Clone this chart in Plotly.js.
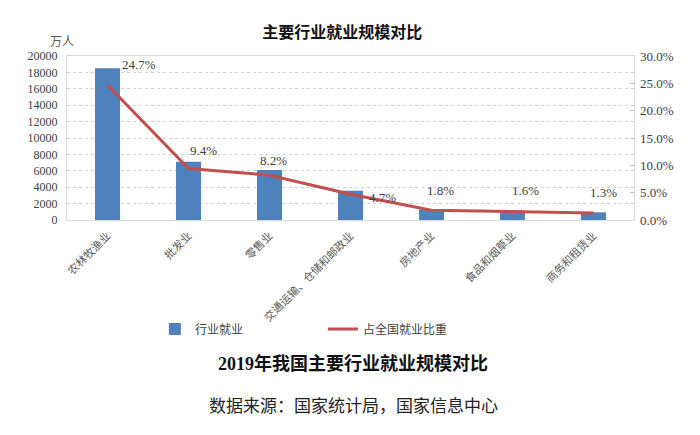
<!DOCTYPE html>
<html>
<head>
<meta charset="utf-8">
<script src="https://cdn.plot.ly/plotly-3.0.1.min.js"></script>
<style>
  html, body { margin: 0; padding: 0; background: #fff; }
  #chart { width: 700px; height: 435px; }
</style>
</head>
<body>
<div id="chart"></div>
<script>
// 2019 employment by major industry (万人) and share of national employment (%)
const industries = ['农林牧渔业', '批发业', '零售业', '交通运输、仓储和邮政业', '房地产业', '食品和烟草业', '商务和租赁业'];
const employment = [18500, 7100, 6100, 3570, 1300, 1140, 940];
const sharePct = [24.7, 9.4, 8.2, 4.7, 1.8, 1.6, 1.3];
const leftTicks = [0, 2000, 4000, 6000, 8000, 10000, 12000, 14000, 16000, 18000, 20000];
const rightTicks = [0, 5, 10, 15, 20, 25, 30];

const serif = 'Liberation Serif, Noto Sans CJK SC, serif';
const cjk = 'Noto Sans CJK SC, sans-serif';
const blue = '#4F81BD';
const red = '#C0504D';

// pixel nudges for each percentage label relative to its point
const labelShift = [[31, 20], [15, 18], [4, 15], [32, -3], [9, 20], [13, 21], [10, 20]];

const traces = [
  {
    type: 'bar', name: '行业就业', x: industries, y: employment,
    marker: { color: blue }, hoverinfo: 'x+y'
  },
  {
    type: 'scatter', mode: 'lines', name: '占全国就业比重', x: industries, y: sharePct,
    yaxis: 'y2', line: { color: red, width: 3 }
  }
];

const annotations = sharePct.map((v, i) => ({
  x: industries[i], y: v, xref: 'x', yref: 'y2',
  text: v.toFixed(1) + '%', showarrow: false,
  xshift: labelShift[i][0], yshift: labelShift[i][1],
  font: { family: serif, size: 13, color: '#404040' }
}));

annotations.push(
  { xref: 'paper', yref: 'paper', x: -0.009, y: 1.0, yshift: 16, xanchor: 'center', yanchor: 'middle',
    text: '万人', showarrow: false, font: { family: cjk, size: 12, color: '#595959' } },
  { xref: 'paper', yref: 'paper', x: 0.505, y: -0.872, xanchor: 'center', yanchor: 'middle',
    text: '<b>2019年我国主要行业就业规模对比</b>', showarrow: false,
    font: { family: serif, size: 18, color: '#111' } },
  { xref: 'paper', yref: 'paper', x: 0.505, y: -1.122, xanchor: 'center', yanchor: 'middle',
    text: '数据来源：国家统计局，国家信息中心', showarrow: false,
    font: { family: cjk, size: 17, color: '#222' } }
);

const layout = {
  width: 700, height: 435,
  margin: { l: 67, r: 66, t: 56, b: 215 },
  paper_bgcolor: '#fff', plot_bgcolor: '#fff',
  title: {
    text: '<b>主要行业就业规模对比</b>', x: 0.489, xanchor: 'center',
    y: 1 - 32 / 435, yanchor: 'middle', yref: 'container',
    font: { family: cjk, size: 16, color: '#111' }
  },
  bargap: 0.69,
  showlegend: true,
  legend: {
    orientation: 'h', x: 0.155, y: -0.665, xanchor: 'left', yanchor: 'middle',
    entrywidth: 123, entrywidthmode: 'pixels', bgcolor: 'rgba(0,0,0,0)',
    font: { family: cjk, size: 12, color: '#404040' }, traceorder: 'normal'
  },
  xaxis: {
    type: 'category', tickangle: -45, showline: true, mirror: true,
    linecolor: '#d9d9d9', linewidth: 1, ticks: '', showgrid: false,
    ticklabelstandoff: 4,
    tickfont: { family: cjk, size: 11, color: '#595959' }
  },
  yaxis: {
    range: [0, 20000], tickvals: leftTicks, ticktext: leftTicks.map(String),
    showline: true, mirror: true, linecolor: '#d9d9d9', linewidth: 1,
    showgrid: true, gridcolor: '#d0d0d0', griddash: 'dot', gridwidth: 1,
    zeroline: false, ticks: '', ticklen: 0, ticklabelstandoff: 6,
    tickfont: { family: serif, size: 12, color: '#404040' }
  },
  yaxis2: {
    overlaying: 'y', side: 'right', range: [0, 30],
    tickvals: rightTicks, ticktext: rightTicks.map(t => t.toFixed(1) + '%'),
    showgrid: false, zeroline: false, showline: false,
    ticks: 'inside', ticklen: 4, tickcolor: '#bfbfbf', ticklabelstandoff: 5,
    tickfont: { family: serif, size: 13, color: '#404040' }
  },
  annotations: annotations
};

Plotly.newPlot('chart', traces, layout, { displayModeBar: false, staticPlot: true });
</script>
</body>
</html>
